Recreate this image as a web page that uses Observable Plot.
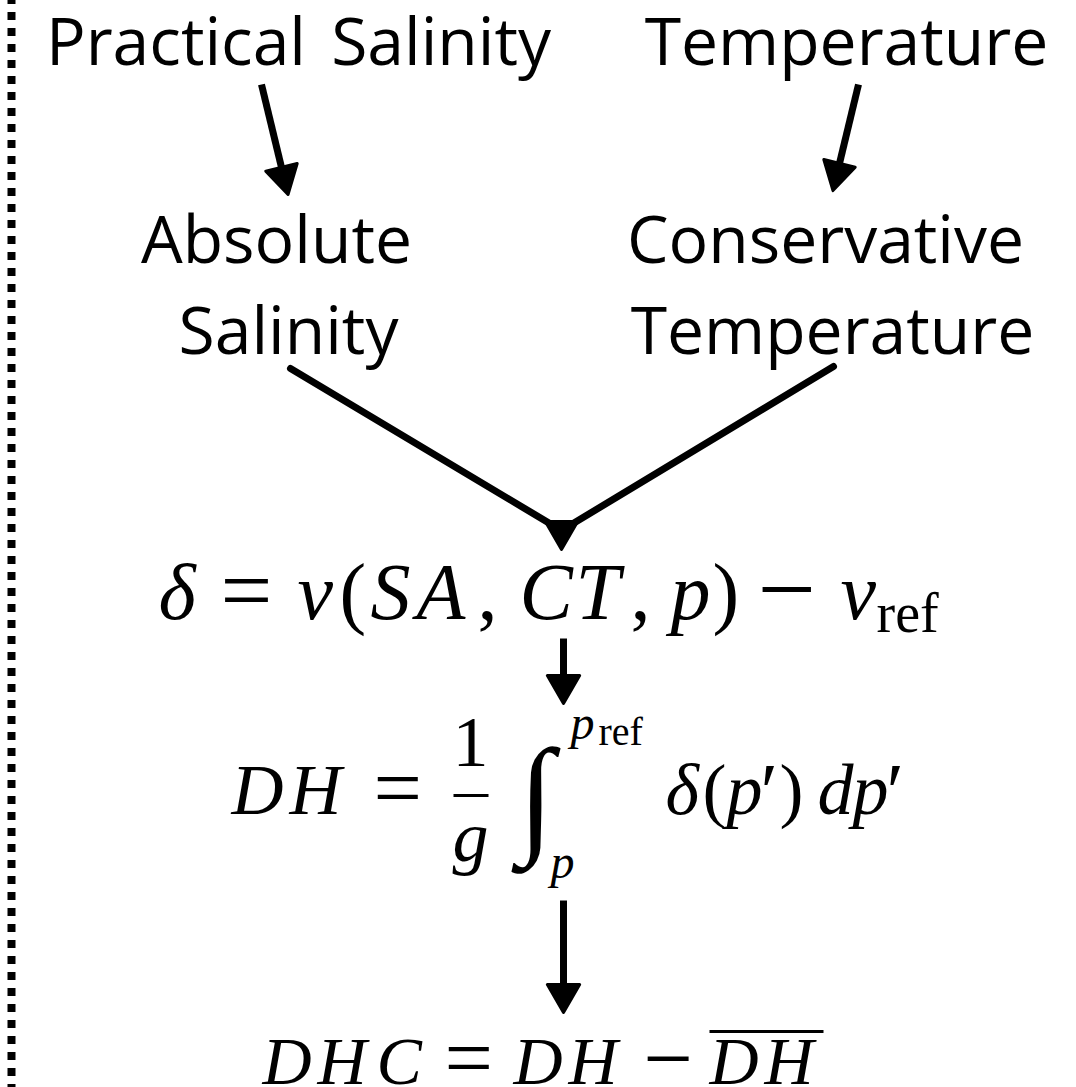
<!DOCTYPE html>
<html><head><meta charset="utf-8">
<script src="https://cdn.jsdelivr.net/npm/d3@7"></script>
<script src="https://cdn.jsdelivr.net/npm/@observablehq/plot@0.6"></script>
<style>html,body{margin:0;padding:0;background:#fff}#chart svg{display:block}</style>
</head><body><div id="chart"></div>
<script>
// ---- Node labels (text) ----
const nodeLabels = ["Practical Salinity", "Temperature", "Absolute", "Salinity", "Conservative", "Temperature"];
// ---- Node layout (centre x, baseline y) ----
const nodeX = [298, 846, 276, 288, 825, 832];
const nodeY = [64, 64, 262, 353, 262, 353];

// ---- Formula tokens: text / kind (1 = italic, 0 = upright, 2 = operator) ----
const f1Tokens = ["δ", "=", "v", "(", "S", "A", ",", "C", "T", ",", "p", ")", "−", "v", "ref"];
const f1Kind = [1, 2, 1, 0, 1, 1, 0, 1, 1, 0, 1, 0, 2, 1, 0];
const f1X = [158, 220, 297, 339, 370, 416, 477, 519, 575, 630, 670, 712, 757, 840, 876];
const f1Y = [618, 620, 618, 618, 618, 618, 618, 618, 618, 618, 618, 618, 623, 618, 631];
const f1Size = [80, 92, 80, 80, 80, 80, 80, 80, 80, 80, 80, 80, 104, 80, 56];

const f2Tokens = ["D", "H", "=", "1", "g", "∫", "p", "ref", "p", "δ", "(", "p", "′", ")", "d", "p", "′"];
const f2Kind = [1, 1, 2, 0, 1, 1, 1, 0, 1, 1, 0, 1, 0, 0, 1, 1, 0];
const f2X = [231, 289, 373, 452, 452, 518, 570, 598, 550, 665, 702, 726, 760, 779, 817, 852, 886];
const f2Y = [813, 813, 816, 765, 860, 838, 738, 744, 877, 813, 813, 813, 818, 813, 813, 813, 818];
const f2Size = [72, 72, 86, 72, 72, 130, 48, 40, 48, 72, 72, 72, 80, 72, 72, 72, 80];

const f3Tokens = ["D", "H", "C", "=", "D", "H", "−", "D", "H"];
const f3Kind = [1, 1, 1, 2, 1, 1, 2, 1, 1];
const f3X = [262, 317, 376, 444, 513, 568, 643, 709, 764];
const f3Y = [1083, 1083, 1083, 1086, 1083, 1083, 1087, 1083, 1083];
const f3Size = [68, 68, 68, 86, 68, 68, 88, 68, 68];

// fraction bar and overline (x1, x2, y)
const bars = [[453, 488, 795], [709, 823, 1031]];

// ---- Arrows: start -> tip ----
const arrowStart = [[261, 84], [858, 84], [563, 638], [563, 900]];
const arrowTip = [[288, 196], [832, 192], [563, 705], [563, 1014]];
// converging V and its head
const vPath = [[290, 368], [561, 530], [833, 366]];
const vTip = [561, 551];

const W = 1076, H = 1087;
const headR = 12;
const tipDist = 2 * Math.sqrt(headR * headR * Math.PI / (3 * Math.sqrt(3))) + 2;

const nodes = nodeLabels.map((t, i) => ({text: t, x: nodeX[i], y: nodeY[i]}));
function toks(T, K, X, Y, S) { return T.map((t, i) => ({text: t, kind: K[i], x: X[i], y: Y[i], size: S[i]})); }
const tokens = [...toks(f1Tokens, f1Kind, f1X, f1Y, f1Size), ...toks(f2Tokens, f2Kind, f2X, f2Y, f2Size), ...toks(f3Tokens, f3Kind, f3X, f3Y, f3Size)];

const arrows = arrowStart.map((s, i) => {
  const t = arrowTip[i];
  const dx = t[0] - s[0], dy = t[1] - s[1], L = Math.hypot(dx, dy);
  const ux = dx / L, uy = dy / L;
  const cx = t[0] - ux * tipDist, cy = t[1] - uy * tipDist;
  const rot = Math.atan2(ux, -uy) * 180 / Math.PI;
  return {x1: s[0], y1: s[1], x2: cx, y2: cy, cx, cy, rot};
});
const heads = [...arrows.map(a => ({x: a.cx, y: a.cy, rot: a.rot})), {x: vTip[0], y: vTip[1] - tipDist, rot: 180}];
const vLine = vPath.map(p => ({x: p[0], y: p[1]}));
const barData = bars.map(b => ({x1: b[0], x2: b[1], y: b[2]}));

const mathFont = "'Liberation Serif', 'Times New Roman', serif";

const chart = Plot.plot({
  width: W, height: H, margin: 0,
  x: {domain: [0, W], range: [0, W], axis: null},
  y: {domain: [0, H], range: [0, H], axis: null},
  style: {background: "#fff", wordSpacing: "8px"},
  marks: [
    Plot.ruleX([{x: 11, y1: 0, y2: H}], {x: "x", y1: "y1", y2: "y2", stroke: "#000", strokeWidth: 8, strokeDasharray: "8,8", strokeDashoffset: 4}),
    Plot.link(arrows, {x1: "x1", y1: "y1", x2: "x2", y2: "y2", stroke: "#000", strokeWidth: 7}),
    Plot.line(vLine, {x: "x", y: "y", stroke: "#000", strokeWidth: 7, strokeLinejoin: "miter"}),
    Plot.dot(heads, {x: "x", y: "y", rotate: "rot", symbol: "triangle", r: headR, fill: "#000", stroke: "#000", strokeWidth: 3, strokeLinejoin: "round"}),
    Plot.text(nodes, {x: "x", y: "y", text: "text", fontSize: 66, fontFamily: "'Open Sans', sans-serif", textAnchor: "middle", lineAnchor: "bottom", fill: "#000"}),
    Plot.text(tokens.filter(d => d.kind === 1), {x: "x", y: "y", text: "text", fontSize: "size", fontFamily: mathFont, fontStyle: "italic", textAnchor: "start", lineAnchor: "bottom", fill: "#000"}),
    Plot.text(tokens.filter(d => d.kind !== 1), {x: "x", y: "y", text: "text", fontSize: "size", fontFamily: mathFont, textAnchor: "start", lineAnchor: "bottom", fill: "#000"}),
    Plot.link(barData, {x1: "x1", x2: "x2", y1: "y", y2: "y", stroke: "#000", strokeWidth: 3})
  ]
});
document.getElementById("chart").append(chart);
</script></body></html>
